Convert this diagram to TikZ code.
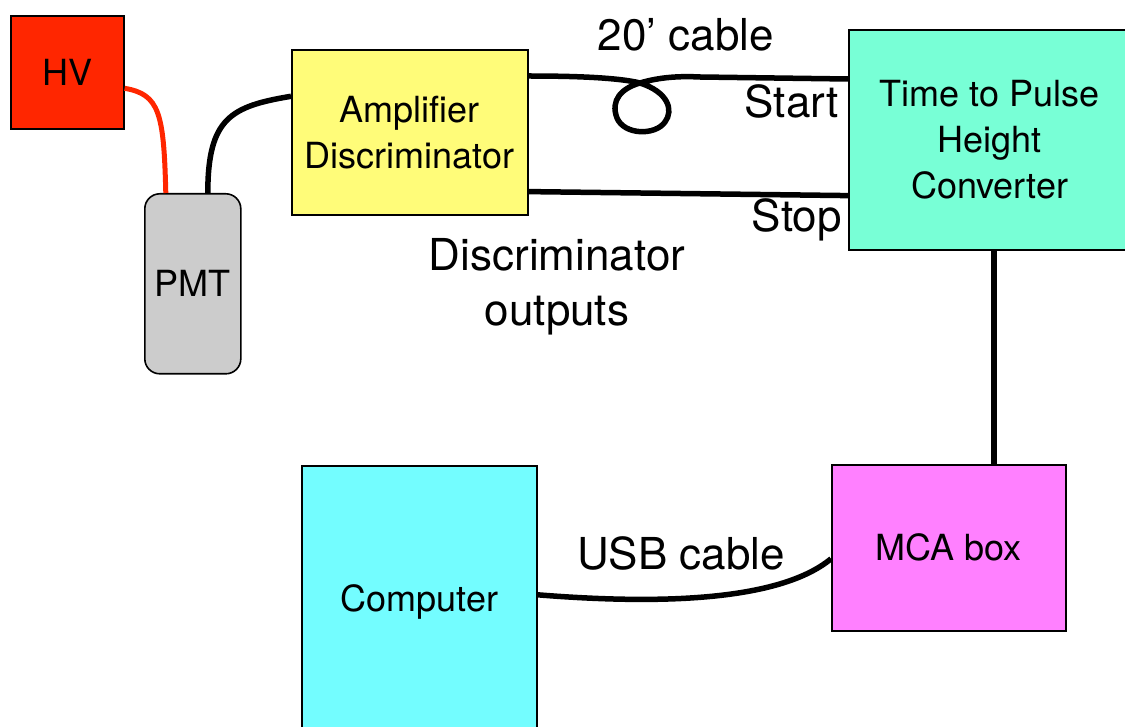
\documentclass[tikz,border=0pt]{standalone}
\usepackage{fontspec}
\setmainfont{TeX Gyre Heros}
\usetikzlibrary{calc}

\definecolor{hvred}{RGB}{255,38,0}
\definecolor{pmtgray}{RGB}{204,204,204}
\definecolor{ampyellow}{RGB}{255,252,121}
\definecolor{tacgreen}{RGB}{120,255,214}
\definecolor{mcapink}{RGB}{255,128,255}
\definecolor{pccyan}{RGB}{115,253,255}

\tikzset{
  box/.style={draw=black, line width=1.6, inner sep=0, anchor=north west, align=center,
    font=\fontsize{36}{46}\selectfont},
  cable/.style={draw=black, line width=5.5, line cap=butt},
  label/.style={inner sep=0, align=center, font=\fontsize{44}{55}\selectfont},
}

\begin{document}
\begin{tikzpicture}[x=1pt,y=1pt,yscale=-1]
	\useasboundingbox (0,0) rectangle (1125,727);

	% boxes
	\node[box, fill=hvred, minimum width=113, minimum height=113] (hv) at (10,15) {HV};
	\node[box, fill=pmtgray, rounded corners=15, minimum width=96, minimum height=180] (pmt) at (144,193) {PMT};
	\node[box, fill=ampyellow, minimum width=236, minimum height=165] (amp) at (291,49) {Amplifier\\Discriminator};
	\node[box, fill=tacgreen, minimum width=282, minimum height=220] (tac) at (848,29) {Time to Pulse\\Height\\Converter};
	\node[box, fill=mcapink, minimum width=234, minimum height=166] (mca) at (831,464) {MCA box};
	\node[box, fill=pccyan, minimum width=235, minimum height=272] (pc) at (301,465) {Computer};

	% HV to PMT
	\draw[cable, draw=hvred, line width=5] ($(hv.east)+(0,16)$) .. controls +(35,6) and +(-2,-80) .. ($(pmt.north)+(-27,0)$);
	% PMT signal to amplifier
	\draw[cable] ($(pmt.north)+(15,0)$) .. controls +(0,-75) and +(-60,10) .. ($(amp.west)+(0,-36)$);

	% start line with the 20' loop
	\draw[cable] ($(amp.north east)+(0,27)$) .. controls (580,76) and (620,78) .. (640,83)
		.. controls (668,92) and (674,110) .. (665,122) .. controls (655,136) and (624,135) .. (617,118)
		.. controls (610,100) and (622,88) .. (640,83) .. controls (660,77) and (680,76) .. (700,77)
		-- ($(tac.north west)+(0,50)$);
	% stop line
	\draw[cable] ($(amp.south east)+(0,-24)$) -- ($(tac.south west)+(0,-55)$);

	% TAC output to MCA
	\draw[cable] ($(tac.south)+(4,0)$) coordinate (tacout) -- (tacout |- mca.north);
	% USB
	\draw[cable] ($(pc.east)+(0,-7)$) .. controls (640,603) and (775,605) .. ($(mca.west)+(0,11)$);

	% labels
	\node[label] (looplbl) at (686,35) {20’ cable};
	\node[label, anchor=east] (startlbl) at (839,101) {Start};
	\node[label, anchor=east] (stoplbl) at (842,220) {Stop};
	\node[label] (disclbl) at (557,287) {Discriminator\\outputs};
	\node[label] (usblbl) at (681,553) {USB cable};
\end{tikzpicture}
\end{document}
